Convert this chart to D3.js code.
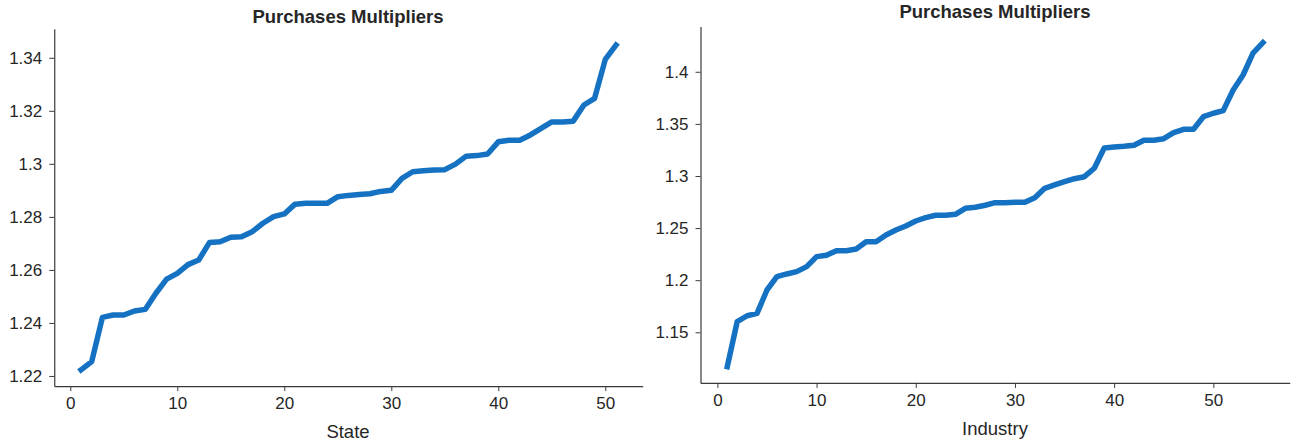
<!DOCTYPE html>
<html>
<head>
<meta charset="utf-8">
<script src="https://cdn.jsdelivr.net/npm/d3@7"></script>
<style>
  html, body { margin: 0; padding: 0; background: #fff; }
  svg { display: block; }
  text { font-family: "Liberation Sans", Arial, sans-serif; fill: #262626; }
</style>
</head>
<body>
<svg id="chart" width="1291" height="445"></svg>
<script>
// ---------- data ----------
const stateMultipliers = [
  1.2223, 1.2254, 1.2421, 1.2430, 1.2430, 1.2445, 1.2451, 1.2512, 1.2565, 1.2587,
  1.2620, 1.2637, 1.2703, 1.2706, 1.2723, 1.2725, 1.2744, 1.2776, 1.2801, 1.2811,
  1.2848, 1.2851, 1.2851, 1.2851, 1.2876, 1.2881, 1.2884, 1.2887, 1.2896, 1.2900,
  1.2945, 1.2970, 1.2974, 1.2977, 1.2978, 1.2999, 1.3029, 1.3031, 1.3037, 1.3083,
  1.3089, 1.3089, 1.3109, 1.3134, 1.3158, 1.3158, 1.3161, 1.3222, 1.3247, 1.3394,
  1.3448
];
const industryMultipliers = [
  1.1170, 1.1602, 1.1659, 1.1682, 1.1906, 1.2034, 1.2060, 1.2082, 1.2130, 1.2226,
  1.2239, 1.2283, 1.2283, 1.2299, 1.2369, 1.2369, 1.2434, 1.2482, 1.2520, 1.2568,
  1.2600, 1.2623, 1.2623, 1.2632, 1.2690, 1.2700, 1.2719, 1.2744, 1.2744, 1.2748,
  1.2748, 1.2792, 1.2882, 1.2914, 1.2945, 1.2974, 1.2993, 1.3074, 1.3269, 1.3278,
  1.3285, 1.3295, 1.3343, 1.3343, 1.3358, 1.3416, 1.3448, 1.3448, 1.3569, 1.3602,
  1.3627, 1.3825, 1.3969, 1.4178, 1.4279
];
const stateYTicks = [1.22, 1.24, 1.26, 1.28, 1.30, 1.32, 1.34];
const industryYTicks = [1.15, 1.20, 1.25, 1.30, 1.35, 1.40];
const xTicks = [0, 10, 20, 30, 40, 50];
const titles = ["Purchases Multipliers", "Purchases Multipliers"];
const xLabels = ["State", "Industry"];

// ---------- drawing ----------
const svg = d3.select("#chart");
const lineColor = "#1572c3";
const axisColor = "#3a3a3a";

function fmt(v) {
  return String(+v.toFixed(4));
}

function panel(cfg) {
  const n = cfg.values.length;
  const xPad = (n - 1) * 0.05;
  const ext = d3.extent(cfg.values);
  const yPad = (ext[1] - ext[0]) * 0.05;
  const x = d3.scaleLinear().domain([1 - xPad, n + xPad]).range([cfg.left, cfg.right]);
  const y = d3.scaleLinear().domain([ext[0] - yPad, ext[1] + yPad]).range([cfg.bottom, cfg.top]);

  const g = svg.append("g");

  const xAxis = g.append("g")
    .attr("transform", `translate(0,${cfg.bottom})`)
    .call(d3.axisBottom(x).tickValues(xTicks).tickSize(5).tickPadding(6).tickSizeOuter(0).tickFormat(d3.format("d")));
  const yAxis = g.append("g")
    .attr("transform", `translate(${cfg.left},0)`)
    .call(d3.axisLeft(y).tickValues(cfg.yTicks).tickSize(5).tickPadding(7).tickSizeOuter(0).tickFormat(fmt));

  [xAxis, yAxis].forEach(a => {
    a.select(".domain").attr("stroke", axisColor).attr("stroke-width", 1.2);
    a.selectAll(".tick line").attr("stroke", axisColor).attr("stroke-width", 1);
    a.selectAll(".tick text")
      .attr("font-size", 17)
      .attr("font-family", "Liberation Sans, Arial, sans-serif")
      .attr("fill", "#262626");
  });

  const line = d3.line().x((d, i) => x(i + 1)).y(d => y(d));
  g.append("path")
    .datum(cfg.values)
    .attr("d", line)
    .attr("fill", "none")
    .attr("stroke", lineColor)
    .attr("stroke-width", 5.5)
    .attr("stroke-linejoin", "round")
    .attr("stroke-linecap", "square");

  g.append("text")
    .attr("x", cfg.titleX)
    .attr("y", cfg.titleY)
    .attr("text-anchor", "middle")
    .attr("font-size", 18.5)
    .attr("font-weight", "bold")
    .text(cfg.title);

  g.append("text")
    .attr("x", cfg.titleX)
    .attr("y", cfg.xLabelY)
    .attr("text-anchor", "middle")
    .attr("font-size", 18.5)
    .text(cfg.xLabel);
}

panel({
  values: stateMultipliers, yTicks: stateYTicks,
  left: 54.25, right: 642.75, top: 28.8, bottom: 386.1,
  title: titles[0], titleX: 348, titleY: 22.5,
  xLabel: xLabels[0], xLabelY: 438
});
panel({
  values: industryMultipliers, yTicks: industryYTicks,
  left: 700.5, right: 1289.7, top: 26.5, bottom: 382.9,
  title: titles[1], titleX: 995, titleY: 17.5,
  xLabel: xLabels[1], xLabelY: 434.5
});
</script>
</body>
</html>
